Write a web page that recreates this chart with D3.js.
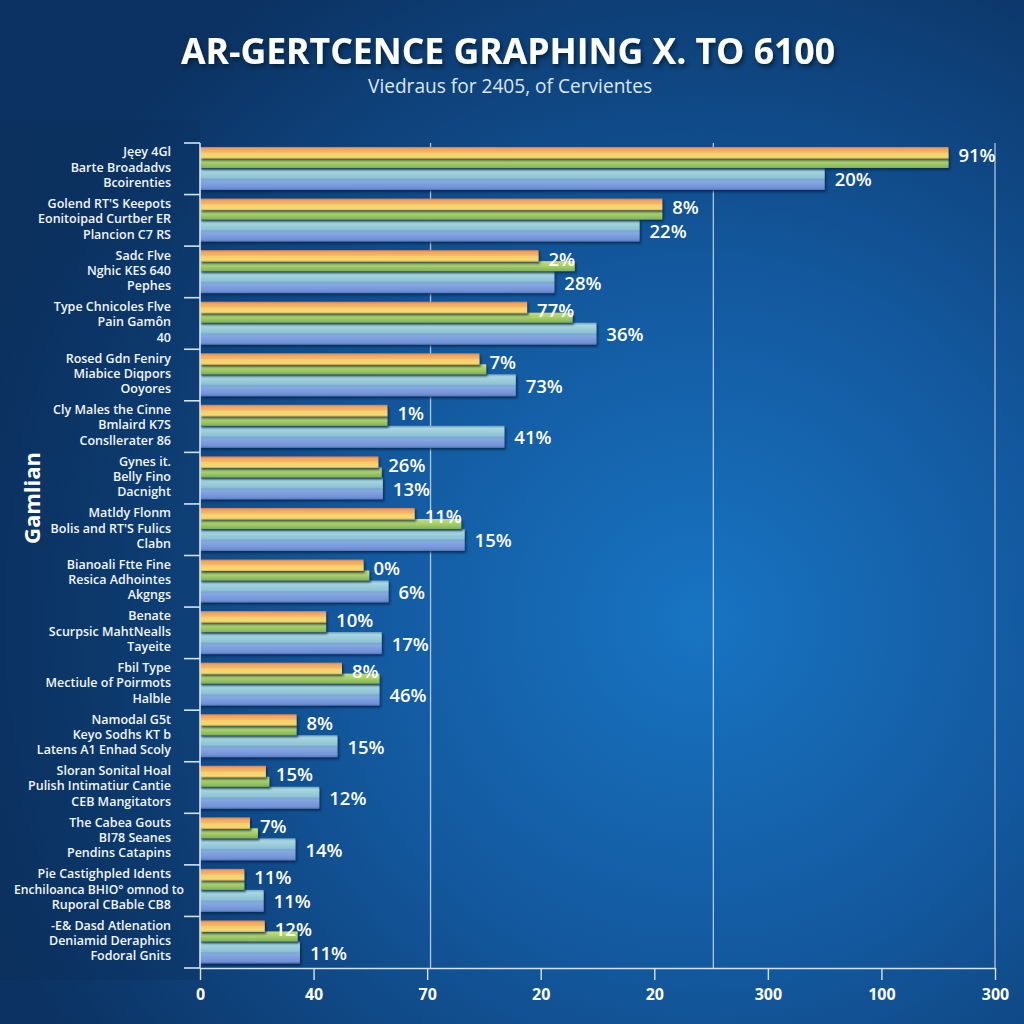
<!DOCTYPE html>
<html>
<head>
<meta charset="utf-8">
<script src="https://cdn.jsdelivr.net/npm/d3@7"></script>
<style>
  html, body { margin: 0; padding: 0; background: #0d3a6e; }
  svg { display: block; }
</style>
</head>
<body>
<div id="chart"></div>
<script>
// ---- data ----
const categories = [
  ["Jęey 4Gl", "Barte Broadadvs", "Bcoirenties"],
  ["Golend RT'S Keepots", "Eonitoipad Curtber ER", "Plancion C7 RS"],
  ["Sadc Flve", "Nghic KES 640", "Pephes"],
  ["Type Chnicoles Flve", "Pain Gamôn", "40"],
  ["Rosed Gdn Feniry", "Miabice Diqpors", "Ooyores"],
  ["Cly Males the Cinne", "Bmlaird K7S", "Consllerater 86"],
  ["Gynes it.", "Belly Fino", "Dacnight"],
  ["Matldy Flonm", "Bolis and RT'S Fulics", "Clabn"],
  ["Bianoali Ftte Fine", "Resica Adhointes", "Akgngs"],
  ["Benate", "Scurpsic MahtNealls", "Tayeite"],
  ["Fbil Type", "Mectiule of Poirmots", "Halble"],
  ["Namodal G5t", "Keyo Sodhs KT b", "Latens A1 Enhad Scoly"],
  ["Sloran Sonital Hoal", "Pulish Intimatiur Cantie", "CEB Mangitators"],
  ["The Cabea Gouts", "BI78 Seanes", "Pendins Catapins"],
  ["Pie Castighpled Idents", "Enchiloanca BHIO° omnod to", "Ruporal CBable CB8"],
  ["-E& Dasd Atlenation", "Deniamid Deraphics", "Fodoral Gnits"]
];
const warmValues  = [659, 407, 298, 288, 246, 165, 157, 189, 144, 111, 125, 85, 58, 44, 39, 57];
const greenValues = [659, 407, 330, 328, 252, 165, 160, 230, 149, 111, 158, 85, 61, 51, 39, 86];
const coolValues  = [550, 387, 312, 349, 278, 268, 161, 233, 166, 160, 158, 121, 105, 84, 56, 88];
const topLabels    = ["91%", "8%", "2%", "77%", "7%", "1%", "26%", "11%", "0%", "10%", "8%", "8%", "15%", "7%", "11%", "12%"];
const bottomLabels = ["20%", "22%", "28%", "36%", "73%", "41%", "13%", "15%", "6%", "17%", "46%", "15%", "12%", "14%", "11%", "11%"];
const tickValues = [0, 100, 200, 300, 400, 500, 600, 700];
const tickLabels = ["0", "40", "70", "20", "20", "300", "100", "300"];
const gridValues = [203, 452, 700];
const title = "AR-GERTCENCE GRAPHING X. TO 6100";
const subtitle = "Viedraus for 2405, of Cervientes";
const yTitle = "Gamlian";

// ---- layout ----
const W = 1024, H = 1024;
const plot = { left: 200, right: 995, top: 143, bottom: 968 };

const svg = d3.select("#chart").append("svg")
  .attr("width", W).attr("height", H);

const defs = svg.append("defs");

const bg = defs.append("radialGradient").attr("id", "bg")
  .attr("gradientUnits", "userSpaceOnUse")
  .attr("cx", 700).attr("cy", 620).attr("r", 760);
bg.append("stop").attr("offset", "0%").attr("stop-color", "#1874c2");
bg.append("stop").attr("offset", "45%").attr("stop-color", "#13599f");
bg.append("stop").attr("offset", "100%").attr("stop-color", "#0b3262");

const panel = defs.append("linearGradient").attr("id", "panel")
  .attr("x1", 0).attr("x2", 1).attr("y1", 0).attr("y2", 0);
panel.append("stop").attr("offset", "0%").attr("stop-color", "#0a2f5c").attr("stop-opacity", 0.6);
panel.append("stop").attr("offset", "100%").attr("stop-color", "#0a2f5c").attr("stop-opacity", 0.35);

function grad(id, stops) {
  const g = defs.append("linearGradient").attr("id", id)
    .attr("x1", 0).attr("x2", 0).attr("y1", 0).attr("y2", 1);
  stops.forEach(s => g.append("stop").attr("offset", s[0]).attr("stop-color", s[1]));
}
grad("gWarm", [["0%", "#d47e4c"], ["18%", "#f0a563"], ["45%", "#f4b866"], ["55%", "#f6cf6c"], ["85%", "#f3da74"], ["100%", "#d9b85e"]]);
grad("gGreen", [["0%", "#c7dc78"], ["50%", "#a6cf68"], ["100%", "#80b058"]]);
grad("gCool", [["0%", "#6fa5b8"], ["12%", "#a9d6e0"], ["45%", "#8cc3d4"], ["52%", "#7aa6cf"], ["60%", "#86a8e2"], ["90%", "#7192d8"], ["100%", "#5a78bc"]]);

const shadow = defs.append("filter").attr("id", "shadow")
  .attr("x", "-5%").attr("y", "-30%").attr("width", "110%").attr("height", "180%");
shadow.append("feDropShadow").attr("dx", 1.5).attr("dy", 2).attr("stdDeviation", 1.2)
  .attr("flood-color", "#06203f").attr("flood-opacity", 0.75);

const tshadow = defs.append("filter").attr("id", "tshadow")
  .attr("x", "-10%").attr("y", "-30%").attr("width", "120%").attr("height", "160%");
tshadow.append("feDropShadow").attr("dx", 2).attr("dy", 3).attr("stdDeviation", 2)
  .attr("flood-color", "#051a33").attr("flood-opacity", 0.85);

svg.append("rect").attr("width", W).attr("height", H).attr("fill", "url(#bg)");
svg.append("rect").attr("x", 0).attr("y", 120).attr("width", 200).attr("height", 860).attr("fill", "url(#panel)");

// ---- scales ----
const x = d3.scaleLinear().domain([0, 700]).range([plot.left, plot.right]);
const y = d3.scaleBand().domain(d3.range(categories.length)).range([plot.top, plot.bottom]).paddingInner(0);

// ---- titles ----
svg.append("text").attr("x", 508).attr("y", 64).attr("text-anchor", "middle")
  .attr("font-family", "'Open Sans', sans-serif").attr("font-weight", 700)
  .attr("font-size", 35).attr("fill", "#ffffff")
  .attr("textLength", 654).attr("lengthAdjust", "spacingAndGlyphs")
  .attr("filter", "url(#tshadow)").text(title);

svg.append("text").attr("x", 510).attr("y", 93).attr("text-anchor", "middle")
  .attr("font-family", "'Open Sans', sans-serif").attr("font-weight", 400)
  .attr("font-size", 20).attr("fill", "#dbe6f2")
  .attr("textLength", 284).attr("lengthAdjust", "spacingAndGlyphs")
  .text(subtitle);

svg.append("text").attr("transform", "translate(40,498) rotate(-90)")
  .attr("text-anchor", "middle")
  .attr("font-family", "'Open Sans', sans-serif").attr("font-weight", 700)
  .attr("font-size", 22).attr("fill", "#ffffff").text(yTitle);

// ---- grid ----
svg.append("g").selectAll("line").data(gridValues).join("line")
  .attr("x1", d => x(d)).attr("x2", d => x(d))
  .attr("y1", plot.top).attr("y2", plot.bottom)
  .attr("stroke", "#c9dcef").attr("stroke-opacity", 0.85).attr("stroke-width", 1.3);

// ---- bars ----
const groups = svg.append("g").selectAll("g").data(categories.map((c, i) => i)).join("g")
  .attr("transform", i => `translate(0,${y(i)})`);

const rows = [
  { vals: coolValues, fill: "url(#gCool)", y0: 25, h: 22 },
  { vals: greenValues, fill: "url(#gGreen)", y0: 15, h: 10 },
  { vals: warmValues, fill: "url(#gWarm)", y0: 4, h: 11.5 }
];
rows.forEach(r => {
  groups.append("rect")
    .attr("x", x(0)).attr("y", r.y0)
    .attr("width", i => x(r.vals[i]) - x(0)).attr("height", r.h)
    .attr("fill", r.fill).attr("filter", "url(#shadow)");
});

// labels
groups.append("text")
  .attr("x", i => x(warmValues[i]) + 10).attr("y", 13).attr("dy", "0.35em")
  .attr("font-family", "'Open Sans', sans-serif").attr("font-weight", 600)
  .attr("font-size", 18.5).attr("fill", "#ffffff").text(i => topLabels[i]);
groups.append("text")
  .attr("x", i => x(coolValues[i]) + 10).attr("y", 37).attr("dy", "0.35em")
  .attr("font-family", "'Open Sans', sans-serif").attr("font-weight", 600)
  .attr("font-size", 18.5).attr("fill", "#ffffff").text(i => bottomLabels[i]);

// category labels
groups.each(function(i) {
  const g = d3.select(this);
  categories[i].forEach((line, k) => {
    const t = g.append("text").attr("x", 171).attr("y", 9 + k * 15.3).attr("dy", "0.35em")
      .attr("text-anchor", "end")
      .attr("font-family", "'Open Sans', sans-serif").attr("font-weight", 600)
      .attr("font-size", 12.5).attr("fill", "#f2f6fb").text(line);
    const w = t.node().getComputedTextLength();
    if (w > 162) {
      t.attr("x", 184).attr("textLength", 170).attr("lengthAdjust", "spacingAndGlyphs");
    }
  });
});

// ---- axes ----
const axisColor = "#d4e3f2";
const yAxis = svg.append("g");
yAxis.append("line").attr("x1", plot.left).attr("x2", plot.left)
  .attr("y1", plot.top).attr("y2", plot.bottom)
  .attr("stroke", axisColor).attr("stroke-width", 1.6);
yAxis.selectAll("line.tick").data(d3.range(categories.length + 1)).join("line")
  .attr("class", "tick")
  .attr("x1", plot.left - 16).attr("x2", plot.left)
  .attr("y1", i => i < categories.length ? y(i) : plot.bottom)
  .attr("y2", i => i < categories.length ? y(i) : plot.bottom)
  .attr("stroke", axisColor).attr("stroke-width", 1.6);

const xAxis = svg.append("g").attr("transform", `translate(0,${plot.bottom})`)
  .call(d3.axisBottom(x).tickValues(tickValues).tickFormat((d, i) => tickLabels[i]).tickSize(12).tickSizeOuter(0).tickPadding(9));
xAxis.select(".domain").attr("stroke", axisColor).attr("stroke-width", 1.6);
xAxis.selectAll(".tick line").attr("stroke", axisColor).attr("stroke-width", 1.4);
xAxis.selectAll(".tick text")
  .attr("font-family", "'Open Sans', sans-serif").attr("font-weight", 700)
  .attr("font-size", 16).attr("fill", "#ffffff");
</script>
</body>
</html>
